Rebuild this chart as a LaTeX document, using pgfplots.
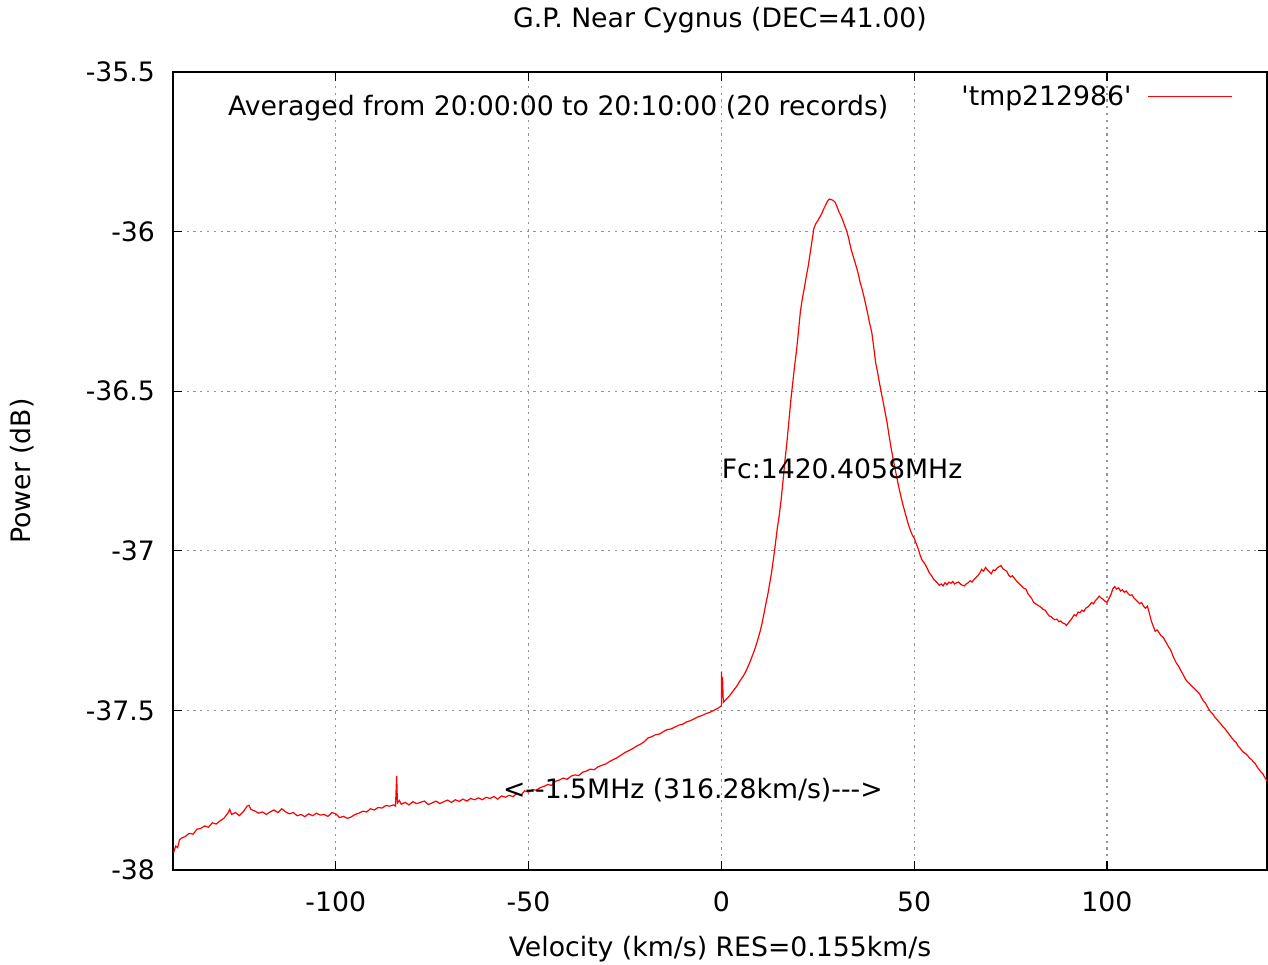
\documentclass[border=0pt]{standalone}
\usepackage{pgfplots}
\pgfplotsset{compat=1.18}
\usepackage{fontspec}
\setmainfont{DejaVu Sans}[Ligatures=TeXOff]
\begin{document}
\begin{tikzpicture}[font=\fontsize{13.35pt}{15pt}\selectfont]
\useasboundingbox (0,0) rectangle (634pt,482pt);
\begin{axis}[
  at={(86.5pt,47pt)}, anchor=south west,
  scale only axis, width=547pt, height=399pt,
  xmin=-142.2, xmax=141.5, ymin=-38, ymax=-35.5,
  xtick={-100,-50,0,50,100},
  ytick={-38,-37.5,-37,-36.5,-36,-35.5},
  yticklabels={-38,-37.5,-37,-36.5,-36,-35.5},
  xticklabels={-100,-50,0,50,100},
  tick align=inside, major tick length=4.5pt,
  xtick pos=both, ytick pos=both,
  axis line style={line width=0.7pt},
  every tick/.style={black, line width=0.6pt},
  grid=major,
  major grid style={gray!85, line width=0.6pt, dash pattern=on 1.1pt off 2.3pt},
  xticklabel style={yshift=-7.5pt},
  yticklabel style={xshift=-5.5pt},
  title={G.P. Near Cygnus (DEC=41.00)},
  title style={at={(0.5,1.0502)}, anchor=center},
  xlabel={Velocity (km/s) RES=0.155km/s},
  xlabel style={at={(0.5,-0.099)}, anchor=center},
  ylabel={Power (dB)},
  ylabel style={at={(-0.138,0.5)}, anchor=center, rotate=0},
  legend style={at={(0.969,0.969)}, anchor=east, draw=none, fill=none, inner sep=0pt, column sep=7pt,
    nodes={inner sep=1pt}},
  legend plot pos=right,
  legend cell align=right,
  legend image code/.code={\draw[red, line width=0.6pt] (0pt,0pt) -- (42pt,0pt);},
  clip=true,
]
\addplot[red, line width=0.6pt] coordinates {
(-142,-37.944) (-141.5,-37.925) (-141,-37.930) (-140.5,-37.905) (-140,-37.900)
(-139,-37.895) (-138,-37.885) (-137,-37.888) (-136,-37.872) (-135,-37.870)
(-134,-37.862) (-133,-37.866) (-132,-37.852) (-131,-37.856) (-130,-37.846)
(-129,-37.838) (-128,-37.822) (-127.5,-37.810) (-127,-37.826) (-126,-37.820)
(-125,-37.830) (-124,-37.818) (-123,-37.800) (-122.5,-37.797) (-122,-37.810)
(-121,-37.815) (-120,-37.822) (-119,-37.818) (-118,-37.826) (-117,-37.818)
(-116,-37.812) (-115,-37.820) (-114,-37.808) (-113,-37.818) (-112,-37.824)
(-111,-37.820) (-110,-37.830) (-109,-37.826) (-108,-37.833) (-107,-37.824)
(-106,-37.830) (-105,-37.822) (-104,-37.828) (-103,-37.826) (-102,-37.832)
(-101,-37.820) (-100,-37.824) (-99,-37.836) (-98,-37.832) (-97,-37.838)
(-96,-37.834) (-95,-37.826) (-94,-37.822) (-93,-37.816) (-92,-37.818)
(-91,-37.808) (-90,-37.812) (-89,-37.804) (-88,-37.806) (-87,-37.798)
(-86,-37.800) (-85,-37.796) (-84.5,-37.800) (-84.2,-37.705) (-84,-37.790)
(-83.5,-37.782) (-83,-37.794) (-82,-37.788) (-81,-37.796) (-80,-37.786)
(-79,-37.792) (-78,-37.788) (-77,-37.784) (-76,-37.795) (-75,-37.790)
(-74,-37.784) (-73,-37.792) (-72,-37.786) (-71,-37.781) (-70,-37.788)
(-69,-37.780) (-68,-37.785) (-67,-37.778) (-66,-37.784) (-65,-37.776)
(-64,-37.780) (-63,-37.774) (-62,-37.780) (-61,-37.772) (-60,-37.776)
(-59,-37.770) (-58,-37.778) (-57,-37.768) (-56,-37.772) (-55,-37.766)
(-54,-37.770) (-53,-37.760) (-52,-37.766) (-51,-37.752) (-50,-37.756)
(-49,-37.748) (-48,-37.750) (-47,-37.742) (-46,-37.738) (-45,-37.732)
(-44,-37.735) (-43,-37.722) (-42,-37.718) (-41,-37.712) (-40,-37.716)
(-39,-37.706) (-38,-37.702) (-37,-37.704) (-36,-37.694) (-35,-37.690)
(-34,-37.684) (-33,-37.686) (-32,-37.677) (-31,-37.672) (-30,-37.668)
(-29,-37.660) (-28,-37.654) (-27,-37.648) (-26,-37.640) (-25,-37.632)
(-24,-37.626) (-23,-37.620) (-22,-37.612) (-21,-37.606) (-20,-37.598)
(-19,-37.586) (-18,-37.582) (-17,-37.576) (-16,-37.574) (-15,-37.566)
(-14,-37.560) (-13,-37.558) (-12,-37.552) (-11,-37.546) (-10,-37.543)
(-9,-37.536) (-8,-37.532) (-7,-37.526) (-6,-37.520) (-5,-37.516)
(-4,-37.510) (-3,-37.506) (-2,-37.500) (-1,-37.494) (-0.5,-37.490)
(0,-37.486) (0.05,-37.380) (0.15,-37.460) (0.3,-37.395) (0.5,-37.475)
(1,-37.468) (1.5,-37.462) (2,-37.456) (2.5,-37.448) (3,-37.440)
(3.5,-37.432) (4,-37.424) (4.5,-37.414) (5,-37.404) (5.5,-37.396)
(6,-37.386) (6.5,-37.374) (7,-37.360) (7.5,-37.346) (8,-37.330)
(8.5,-37.314) (9,-37.296) (9.5,-37.276) (10,-37.255) (10.5,-37.230)
(11,-37.200) (11.5,-37.168) (12,-37.140) (12.5,-37.105) (13,-37.070)
(13.5,-37.026) (14,-36.980) (14.5,-36.930) (15,-36.890) (15.5,-36.840)
(16,-36.780) (16.5,-36.716) (17,-36.660) (17.5,-36.596) (18,-36.530)
(18.5,-36.475) (19,-36.420) (19.5,-36.372) (20,-36.312) (20.5,-36.250)
(21,-36.210) (21.5,-36.178) (22,-36.142) (22.5,-36.110) (23,-36.070)
(23.5,-36.030) (24,-35.990) (24.5,-35.975) (25,-35.966) (25.5,-35.955)
(26,-35.945) (26.5,-35.930) (27,-35.918) (27.5,-35.905) (28,-35.898)
(28.5,-35.900) (29,-35.902) (29.5,-35.908) (30,-35.922) (30.5,-35.938)
(31,-35.950) (31.5,-35.965) (32,-35.982) (32.5,-35.998) (33,-36.020)
(33.5,-36.048) (34,-36.070) (34.5,-36.090) (35,-36.110) (35.5,-36.132)
(36,-36.160) (36.5,-36.180) (37,-36.205) (37.5,-36.232) (38,-36.260)
(38.5,-36.290) (39,-36.315) (39.5,-36.360) (40,-36.410) (40.5,-36.440)
(41,-36.474) (41.5,-36.506) (42,-36.536) (42.5,-36.568) (43,-36.600)
(43.5,-36.640) (44,-36.676) (44.5,-36.710) (45,-36.740) (45.5,-36.770)
(46,-36.800) (46.5,-36.826) (47,-36.852) (47.5,-36.874) (48,-36.896)
(48.5,-36.918) (49,-36.935) (49.5,-36.950) (50,-36.960) (50.5,-36.976)
(51,-36.992) (51.5,-37.012) (52,-37.028) (52.5,-37.036) (53,-37.046)
(53.5,-37.058) (54,-37.070) (54.5,-37.078) (55,-37.088) (55.5,-37.094)
(56,-37.100) (56.5,-37.108) (57,-37.104) (57.5,-37.110) (58,-37.100)
(58.5,-37.106) (59,-37.098) (59.5,-37.102) (60,-37.096) (60.5,-37.104)
(61,-37.100) (61.5,-37.098) (62,-37.104) (62.5,-37.108) (63,-37.110)
(63.5,-37.104) (64,-37.100) (64.5,-37.094) (65,-37.098) (65.5,-37.090)
(66,-37.084) (66.5,-37.078) (67,-37.070) (67.5,-37.058) (68,-37.064)
(68.5,-37.052) (69,-37.060) (69.5,-37.066) (70,-37.072) (70.5,-37.060)
(71,-37.062) (71.5,-37.054) (72,-37.050) (72.5,-37.046) (73,-37.056)
(73.5,-37.060) (74,-37.064) (74.5,-37.076) (75,-37.082) (75.5,-37.078)
(76,-37.086) (76.5,-37.094) (77,-37.100) (77.5,-37.106) (78,-37.112)
(78.5,-37.118) (79,-37.120) (79.5,-37.134) (80,-37.142) (80.5,-37.150)
(81,-37.162) (81.5,-37.166) (82,-37.170) (82.5,-37.174) (83,-37.178)
(83.5,-37.184) (84,-37.186) (84.5,-37.196) (85,-37.204) (85.5,-37.206)
(86,-37.212) (86.5,-37.216) (87,-37.214) (87.5,-37.222) (88,-37.220)
(88.5,-37.226) (89,-37.228) (89.5,-37.234) (90,-37.226) (90.5,-37.218)
(91,-37.210) (91.5,-37.200) (92,-37.204) (92.5,-37.192) (93,-37.194)
(93.5,-37.186) (94,-37.190) (94.5,-37.180) (95,-37.176) (95.5,-37.170)
(96,-37.162) (96.5,-37.166) (97,-37.156) (97.5,-37.150) (98,-37.142)
(98.5,-37.148) (99,-37.152) (99.5,-37.158) (100,-37.162) (100.5,-37.150)
(101,-37.138) (101.5,-37.120) (102,-37.112) (102.5,-37.120) (103,-37.116)
(103.5,-37.126) (104,-37.122) (104.5,-37.130) (105,-37.126) (105.5,-37.134)
(106,-37.140) (106.5,-37.138) (107,-37.148) (107.5,-37.154) (108,-37.160)
(108.5,-37.166) (109,-37.162) (109.5,-37.174) (110,-37.180) (110.5,-37.174)
(111,-37.196) (111.5,-37.220) (112,-37.236) (112.5,-37.252) (113,-37.248)
(113.5,-37.256) (114,-37.266) (114.5,-37.270) (115,-37.280) (115.5,-37.290)
(116,-37.302) (116.5,-37.310) (117,-37.326) (117.5,-37.340) (118,-37.352)
(118.5,-37.360) (119,-37.372) (119.5,-37.382) (120,-37.394) (120.5,-37.405)
(121,-37.412) (121.5,-37.418) (122,-37.424) (122.5,-37.430) (123,-37.436)
(123.5,-37.442) (124,-37.448) (124.5,-37.460) (125,-37.470) (125.5,-37.476)
(126,-37.488) (126.5,-37.498) (127,-37.506) (127.5,-37.512) (128,-37.522)
(128.5,-37.528) (129,-37.536) (129.5,-37.542) (130,-37.550) (130.5,-37.556)
(131,-37.564) (131.5,-37.572) (132,-37.580) (132.5,-37.588) (133,-37.596)
(133.5,-37.600) (134,-37.612) (134.5,-37.618) (135,-37.626) (135.5,-37.632)
(136,-37.636) (136.5,-37.642) (137,-37.650) (137.5,-37.654) (138,-37.662)
(138.5,-37.668) (139,-37.678) (139.5,-37.686) (140,-37.694) (140.5,-37.700)
(141,-37.712) (141.5,-37.720)
};
\addlegendentry{'tmp212986'}
\node[anchor=west, inner sep=0pt] at (axis cs:-128,-35.613) {Averaged from 20:00:00 to 20:10:00 (20 records)};
\node[anchor=west, inner sep=0pt] at (axis cs:0,-36.744) {Fc:1420.4058MHz};
\node[anchor=west, inner sep=0pt] at (axis cs:-56.7,-37.749) {<--1.5MHz (316.28km/s)--->};
\end{axis}
\end{tikzpicture}
\end{document}
